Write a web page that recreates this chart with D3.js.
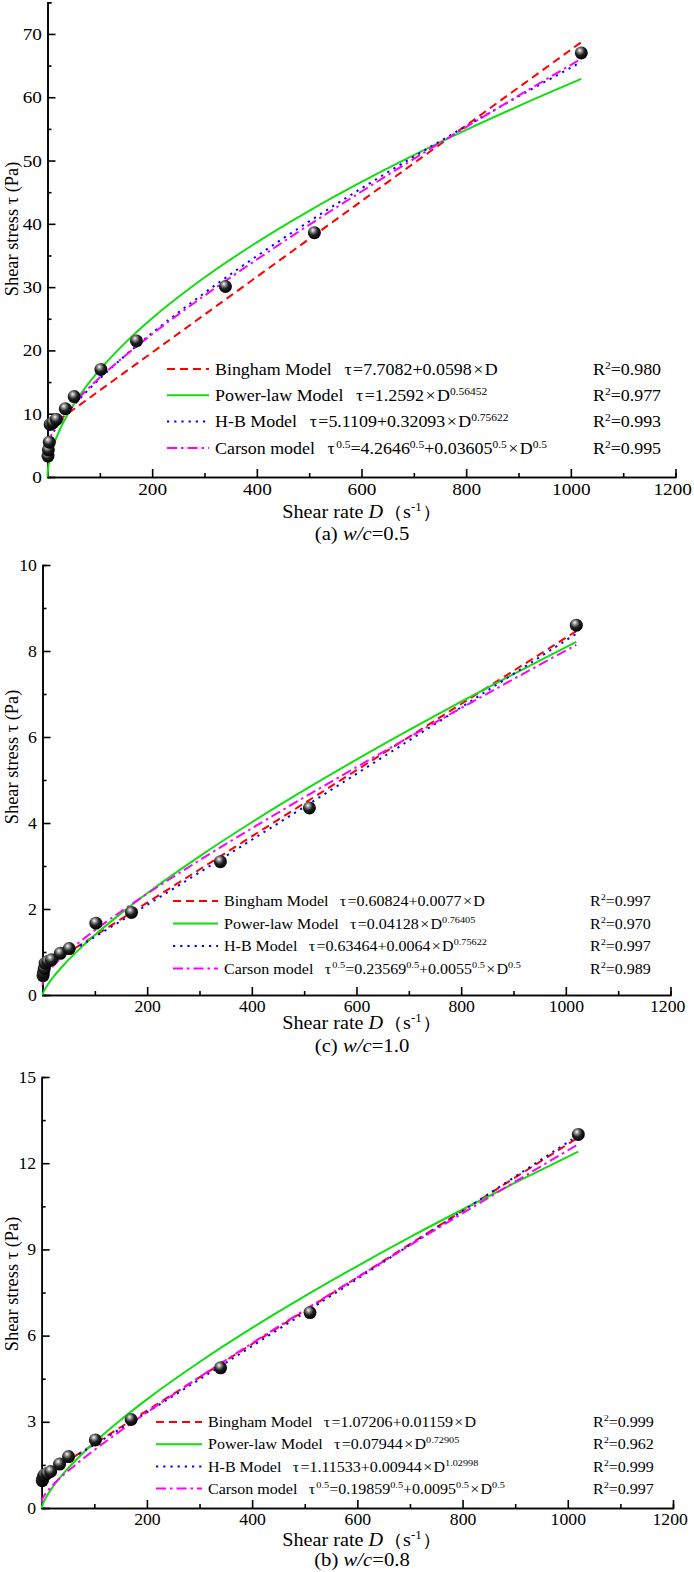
<!DOCTYPE html>
<html>
<head>
<meta charset="utf-8">
<script src="https://cdn.jsdelivr.net/npm/d3@7"></script>
<style>
  body { margin: 0; background: #fff; }
  svg text { font-family: "Liberation Serif", "Times New Roman", serif !important; fill: #000; }
</style>
</head>
<body>
<svg id="chart" width="694" height="1572"></svg>
<script>
// measured shear rates (s-1), same for the three mixes
var rates = [1, 1.7, 3.4, 5.1, 10.2, 17, 34, 51, 102, 170, 340, 510, 1020];
// measured shear stress (Pa)
var stressA = [3.3, 4.3, 5.5, 8.3, 8.6, 9.1, 10.8, 12.7, 17.0, 21.5, 30.1, 38.6, 67.0];
var stressC = [0.45, 0.52, 0.62, 0.74, 0.78, 0.82, 0.97, 1.08, 1.67, 1.92, 3.10, 4.35, 8.60];
var stressB = [0.95, 1.00, 1.10, 1.15, 1.20, 1.27, 1.53, 1.79, 2.37, 3.08, 4.88, 6.80, 13.0];

var fitRates = [0, 1, 3, 6, 10, 20, 40, 70, 100, 150, 200, 300, 400, 500, 600, 700, 800, 900, 1020];

// (a) w/c=0.5
var binghamA = [7.71, 7.77, 7.89, 8.07, 8.31, 8.90, 10.10, 11.89, 13.69, 16.68, 19.67, 25.65, 31.63, 37.61, 43.59, 49.57, 55.55, 61.53, 68.70];
var powerA   = [0, 1.26, 2.34, 3.46, 4.62, 6.83, 10.11, 13.86, 16.95, 21.31, 25.07, 31.51, 37.07, 42.05, 46.61, 50.85, 54.83, 58.60, 62.90];
var hbA      = [5.11, 5.43, 5.85, 6.36, 6.94, 8.20, 10.33, 13.09, 15.55, 19.30, 22.75, 29.08, 34.91, 40.38, 45.61, 50.62, 55.43, 60.12, 65.57];
var carsonA  = [4.26, 5.09, 5.73, 6.40, 7.11, 8.49, 10.67, 13.35, 15.71, 19.28, 22.57, 28.66, 34.37, 39.83, 45.11, 50.25, 55.29, 60.24, 66.08];

// (c) w/c=1.0
var binghamC = [0.608, 0.616, 0.631, 0.654, 0.685, 0.762, 0.916, 1.147, 1.378, 1.763, 2.148, 2.918, 3.688, 4.458, 5.228, 5.998, 6.768, 7.538, 8.462];
var powerC   = [0, 0.041, 0.096, 0.162, 0.240, 0.407, 0.692, 1.061, 1.393, 1.898, 2.365, 3.224, 4.017, 4.763, 5.475, 6.159, 6.821, 7.463, 8.212];
var hbC      = [0.635, 0.641, 0.654, 0.675, 0.703, 0.773, 0.915, 1.133, 1.353, 1.723, 2.096, 2.850, 3.610, 4.373, 5.144, 5.916, 6.690, 7.468, 8.403];
var carsonC  = [0.236, 0.313, 0.377, 0.445, 0.518, 0.668, 0.911, 1.223, 1.506, 1.943, 2.354, 3.133, 3.876, 4.596, 5.300, 5.991, 6.672, 7.346, 8.145];

// (b) w/c=0.8
var binghamB = [1.072, 1.084, 1.107, 1.142, 1.188, 1.304, 1.536, 1.883, 2.231, 2.811, 3.390, 4.549, 5.708, 6.867, 8.026, 9.185, 10.344, 11.503, 12.894];
var powerB   = [0, 0.079, 0.177, 0.293, 0.426, 0.706, 1.170, 1.759, 2.281, 3.066, 3.781, 5.082, 6.268, 7.374, 8.422, 9.426, 10.389, 11.321, 12.404];
var hbB      = [1.115, 1.125, 1.145, 1.175, 1.217, 1.322, 1.537, 1.866, 2.199, 2.761, 3.328, 4.476, 5.635, 6.801, 7.974, 9.157, 10.342, 11.532, 12.968];
var carsonB  = [0.199, 0.295, 0.378, 0.468, 0.568, 0.777, 1.128, 1.590, 2.017, 2.688, 3.327, 4.553, 5.736, 6.891, 8.026, 9.147, 10.256, 11.355, 12.663];

// axis ticks
var xMajor = [200, 400, 600, 800, 1000, 1200];
var xMinor = [100, 300, 500, 700, 900, 1100];
var yMajorA = [0, 10, 20, 30, 40, 50, 60, 70];
var yMinorA = [5, 15, 25, 35, 45, 55, 65, 75];
var yMajorC = [0, 2, 4, 6, 8, 10];
var yMinorC = [1, 3, 5, 7, 9];
var yMajorB = [0, 3, 6, 9, 12, 15];
var yMinorB = [1.5, 4.5, 7.5, 10.5, 13.5];

// legend texts ("^" marks a superscript)
var modelNames = ["Bingham Model", "Power-law Model", "H-B Model", "Carson model"];
var eqA = ["τ=7.7082+0.0598×D", "τ=1.2592×D^0.56452", "τ=5.1109+0.32093×D^0.75622", "τ^0.5=4.2646^0.5+0.03605^0.5×D^0.5"];
var r2A = ["0.980", "0.977", "0.993", "0.995"];
var eqC = ["τ=0.60824+0.0077×D", "τ=0.04128×D^0.76405", "τ=0.63464+0.0064×D^0.75622", "τ^0.5=0.23569^0.5+0.0055^0.5×D^0.5"];
var r2C = ["0.997", "0.970", "0.997", "0.989"];
var eqB = ["τ=1.07206+0.01159×D", "τ=0.07944×D^0.72905", "τ=1.11533+0.00944×D^1.02998", "τ^0.5=0.19859^0.5+0.0095^0.5×D^0.5"];
var r2B = ["0.999", "0.962", "0.999", "0.997"];

var styles = [
  { color: "#ff0000", dash: "8,5" },
  { color: "#11dd11", dash: null },
  { color: "#0000ff", dash: "2.2,5" },
  { color: "#ff00ff", dash: "10,4,2.5,4" }
];

var S = 1.12; // the original lettering is a little wider than Liberation Serif
var svg = d3.select("#chart");

var grad = svg.append("defs").append("radialGradient")
  .attr("id", "ball").attr("cx", "40%").attr("cy", "35%").attr("r", "65%")
  .attr("fx", "38%").attr("fy", "30%");
grad.append("stop").attr("offset", "0%").attr("stop-color", "#ffffff");
grad.append("stop").attr("offset", "22%").attr("stop-color", "#9a9a9a");
grad.append("stop").attr("offset", "55%").attr("stop-color", "#222");
grad.append("stop").attr("offset", "100%").attr("stop-color", "#000");

var panels = [
  { left: 47.5, right: 675.5, top: 2.3, bottom: 477, ymax: 75, yMajor: yMajorA, yMinor: yMinorA,
    tickFont: 17.2, legFont: 16, legY: 369, legStep: 26.3, legX: 167, legLen: 42, r2X: 593,
    stress: stressA, fits: [binghamA, powerA, hbA, carsonA], eqs: eqA, r2: r2A,
    yTitle: 229, titleY: 518, capY: 540, cap: ["(a) ", "w/c", "=0.5"] },
  { left: 42.5, right: 670.5, top: 565, bottom: 995, ymax: 10, yMajor: yMajorC, yMinor: yMinorC,
    tickFont: 15.8, legFont: 14.3, legY: 901, legStep: 22.5, legX: 173, legLen: 45, r2X: 590,
    stress: stressC, fits: [binghamC, powerC, hbC, carsonC], eqs: eqC, r2: r2C,
    yTitle: 757, titleY: 1029, capY: 1052, cap: ["(c) ", "w/c", "=1.0"] },
  { left: 41.7, right: 673, top: 1077, bottom: 1508, ymax: 15, yMajor: yMajorB, yMinor: yMinorB,
    tickFont: 15.8, legFont: 14.3, legY: 1422, legStep: 22.2, legX: 156, legLen: 46, r2X: 593,
    stress: stressB, fits: [binghamB, powerB, hbB, carsonB], eqs: eqB, r2: r2B,
    yTitle: 1284, titleY: 1546, capY: 1566, cap: ["(b) ", "w/c", "=0.8"] }
];

// text element widened horizontally around its anchor point
function wideText(g, x, y, size) {
  return g.append("text")
    .attr("transform", "translate(" + x + "," + y + ") scale(" + S + ",1)")
    .attr("font-size", size);
}

// write "a^b" strings as tspans with raised superscripts, a little room round τ and ×
function addRich(t, str, size, pad) {
  var parts = str.split(/\^([0-9.\-]+)/);
  var up = Math.round(size * 0.4), back = 0, extra = 0;
  parts.forEach(function (s, i) {
    if (!s) return;
    if (i % 2) {
      var sp = t.append("tspan").attr("font-size", size * 0.64).attr("dy", -up).text(s);
      if (extra) { sp.attr("dx", extra); extra = 0; }
      back = up;
      return;
    }
    s.split(/([τ×])/).forEach(function (piece) {
      if (!piece) return;
      var sym = piece === "τ" || piece === "×";
      var ts = t.append("tspan").attr("font-size", size).text(piece);
      var dx = extra + (sym ? pad : 0);
      if (dx) ts.attr("dx", dx);
      extra = sym ? pad : 0;
      if (back) { ts.attr("dy", back); back = 0; }
    });
  });
}

function styleAxis(g, size) {
  g.attr("font-family", null);
  g.select(".domain").attr("stroke", "#000").attr("stroke-width", 1.6);
  g.selectAll(".tick line").attr("stroke", "#000").attr("stroke-width", 1.6);
  g.selectAll(".tick text").attr("font-size", size).attr("transform", "scale(" + S + ",1)");
}

panels.forEach(function (p) {
  var x = d3.scaleLinear().domain([0, 1200]).range([p.left, p.right]);
  var y = d3.scaleLinear().domain([0, p.ymax]).range([p.bottom, p.top]);
  var g = svg.append("g");

  // axes, ticks pointing inward
  g.append("g").attr("transform", "translate(0," + p.bottom + ")")
    .call(d3.axisBottom(x).tickValues(xMinor).tickSize(-4).tickFormat(""))
    .call(styleAxis, p.tickFont);
  var xa = g.append("g").attr("transform", "translate(0," + p.bottom + ")")
    .call(d3.axisBottom(x).tickValues(xMajor).tickSizeInner(-8).tickSizeOuter(0).tickPadding(6).tickFormat(d3.format("d")))
    .call(styleAxis, p.tickFont);
  // keep the last label inside the page
  xa.selectAll(".tick text").filter(function (d) { return d === 1200; }).attr("dx", -3);
  g.append("g").attr("transform", "translate(" + p.left + ",0)")
    .call(d3.axisLeft(y).tickValues(p.yMinor).tickSize(-4).tickFormat(""))
    .call(styleAxis, p.tickFont);
  g.append("g").attr("transform", "translate(" + p.left + ",0)")
    .call(d3.axisLeft(y).tickValues(p.yMajor).tickSizeInner(-8).tickSizeOuter(0).tickPadding(5).tickFormat(d3.format("d")))
    .call(styleAxis, p.tickFont);

  // fitted curves
  var line = d3.line()
    .x(function (d) { return x(d[0]); })
    .y(function (d) { return y(d[1]); })
    .curve(d3.curveMonotoneX);
  p.fits.forEach(function (vals, k) {
    g.append("path")
      .datum(fitRates.map(function (r, i) { return [r, vals[i]]; }))
      .attr("d", line)
      .attr("fill", "none")
      .attr("stroke", styles[k].color)
      .attr("stroke-width", 2)
      .attr("stroke-dasharray", styles[k].dash);
  });

  // measured points
  g.selectAll(".pt").data(rates.map(function (r, i) { return [r, p.stress[i]]; }))
    .enter().append("circle")
    .attr("cx", function (d) { return x(d[0]); })
    .attr("cy", function (d) { return y(d[1]); })
    .attr("r", 6.5)
    .attr("fill", "url(#ball)");

  // legend
  modelNames.forEach(function (name, k) {
    var ly = p.legY + k * p.legStep;
    var base = ly + p.legFont * 0.36;
    g.append("line")
      .attr("x1", p.legX).attr("x2", p.legX + p.legLen)
      .attr("y1", ly).attr("y2", ly)
      .attr("stroke", styles[k].color).attr("stroke-width", 2)
      .attr("stroke-dasharray", styles[k].dash);
    var nx = p.legX + p.legLen + 6;
    var nt = wideText(g, nx, base, p.legFont).text(name);
    var w = nt.node().getComputedTextLength() * S;
    var et = wideText(g, nx + w + p.legFont * 0.7, base, p.legFont);
    addRich(et, p.eqs[k], p.legFont, p.legFont * 0.08);
    var rt = wideText(g, p.r2X, base, p.legFont);
    addRich(rt, "R^2=" + p.r2[k], p.legFont, 0);
  });

  // axis titles
  g.append("text")
    .attr("transform", "translate(18," + p.yTitle + ") rotate(-90)")
    .attr("text-anchor", "middle").attr("font-size", 18.4)
    .text("Shear stress τ (Pa)");

  var cx = 362;
  var xt = wideText(g, cx, p.titleY, 18).attr("text-anchor", "middle");
  xt.append("tspan").attr("font-size", 18).text("Shear rate ");
  xt.append("tspan").attr("font-size", 18).attr("font-style", "italic").text("D");
  xt.append("tspan").attr("font-size", 18).text("（s");
  xt.append("tspan").attr("font-size", 11.5).attr("dy", -7).text("-1");
  xt.append("tspan").attr("font-size", 18).attr("dy", 7).text("）");

  var ct = wideText(g, cx, p.capY, 18.5).attr("text-anchor", "middle");
  ct.append("tspan").attr("font-size", 18.5).text(p.cap[0]);
  ct.append("tspan").attr("font-size", 18.5).attr("font-style", "italic").text(p.cap[1]);
  ct.append("tspan").attr("font-size", 18.5).text(p.cap[2]);
});
</script>
</body>
</html>
